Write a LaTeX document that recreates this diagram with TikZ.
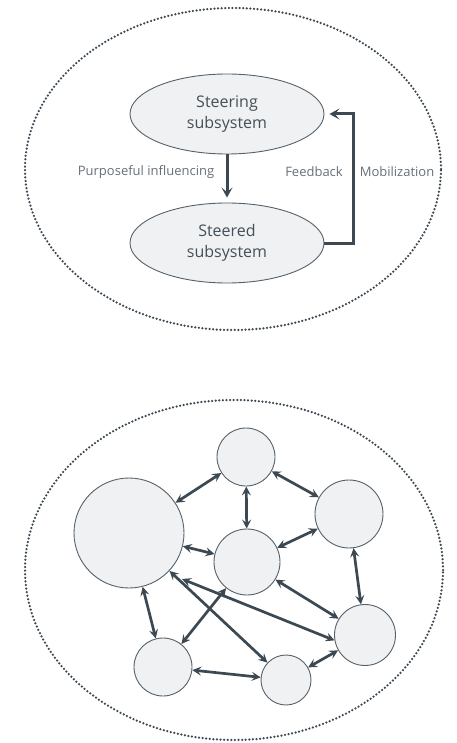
\documentclass[tikz,border=0pt]{standalone}
\usepackage{fontspec}
\setmainfont{Open Sans}
\usepackage{tikz}
\usetikzlibrary{shapes.geometric, arrows.meta}
\definecolor{slate}{HTML}{3C4952}
\definecolor{rim}{HTML}{56616A}
\definecolor{paper}{HTML}{EFF1F3}
\definecolor{labelgrey}{HTML}{666F77}
\definecolor{textgrey}{HTML}{454F57}

\begin{document}
\begin{tikzpicture}[x=1pt, y=-1pt,
		outer/.style={slate, line width=2.5pt, line cap=round, dash pattern=on 0pt off 3.6pt},
		part/.style={ellipse, draw=rim, fill=paper, line width=0.9pt, minimum width=194pt, minimum height=80pt, inner sep=0pt, align=center, font=\fontsize{16}{21}\selectfont, text=textgrey},
		bubble/.style={circle, draw=rim, fill=paper, line width=0.9pt, inner sep=0pt},
		flow/.style={slate, line width=3pt, -{Stealth[length=10pt, width=11pt, inset=4.5pt]}, shorten >=5pt},
		link/.style={slate, line width=2.7pt, {Stealth[length=9pt, width=9pt, inset=3.5pt]}-{Stealth[length=9pt, width=9pt, inset=3.5pt]}},
		tag/.style={font=\fontsize{13}{15}\selectfont, text=labelgrey}]
			\useasboundingbox (0,0) rectangle (456,743);
			\draw[outer] (233,169) ellipse [x radius=208pt, y radius=161pt];
			\node[part] (steering) at (227,114) {Steering\\subsystem};
			\node[part] (steered) at (227,243) {Steered\\subsystem};
			\draw[flow] (steering) -- (steered);
			\draw[flow] (steered.east) -- (353,243) |- (steering.east);
			\node[tag] (purposeful) at (146,172) {Purposeful influencing};
			\node[tag] (feedback) at (314,172) {Feedback};
			\node[tag] (mobilization) at (397,172) {Mobilization};

			\draw[outer] (234,570) ellipse [x radius=209pt, y radius=170pt];
			\node[bubble, minimum size=58pt] (a) at (246,457) {};
			\node[bubble, minimum size=110pt] (b) at (129,533) {};
			\node[bubble, minimum size=66pt] (c) at (247,562) {};
			\node[bubble, minimum size=68pt] (d) at (349,514) {};
			\node[bubble, minimum size=61pt] (e) at (365,635) {};
			\node[bubble, minimum size=58pt] (f) at (163,667) {};
			\node[bubble, minimum size=50pt] (g) at (286,680) {};
			\coordinate (loose) at (182,579);
			\draw[link] (a) -- (b);
			\draw[link] (a) -- (c);
			\draw[link] (a) -- (d);
			\draw[link] (b) -- (c);
			\draw[link] (c) -- (d);
			\draw[link] (d) -- (e);
			\draw[link] (c) -- (e);
			\draw[link] (b) -- (f);
			\draw[link] (b) -- (g);
			\draw[link] (c) -- (f);
			\draw[link] (f) -- (g);
			\draw[link] (g) -- (e);
			\draw[link] (e.190) -- (loose);
\end{tikzpicture}
\end{document}
